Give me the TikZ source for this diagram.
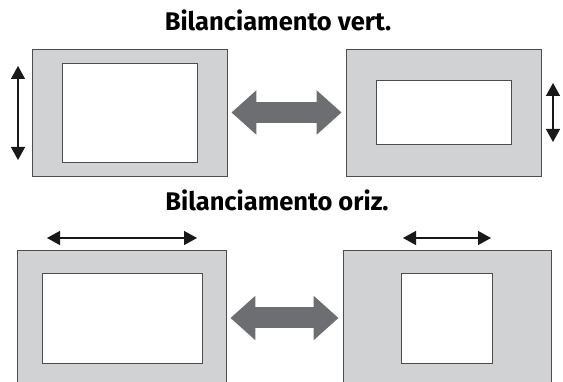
\documentclass[tikz,border=0pt]{standalone}
\usepackage{fontspec}
\setmainfont{Fira Sans}
\usetikzlibrary{arrows.meta}

\definecolor{framegray}{HTML}{D1D2D4}
\definecolor{edgegray}{HTML}{4D4D4F}
\definecolor{arrowgray}{HTML}{6D6E71}

\begin{document}
\begin{tikzpicture}[x=1pt, y=-1pt,
  screen/.style={rectangle, draw=edgegray, fill=framegray, line width=0.9pt, inner sep=0pt},
  picbox/.style={rectangle, draw=edgegray, fill=white, line width=0.9pt, inner sep=0pt},
  movearrow/.style={{Triangle[length=13pt, width=14pt]}-{Triangle[length=13pt, width=14pt]}, line width=1.4pt, black!90},
  bigarrow/.style={{Triangle[length=25pt, width=43pt]}-{Triangle[length=25pt, width=43pt]}, line width=21pt, arrowgray, shorten <=4pt, shorten >=4pt},
  title/.style={anchor=base, font=\fontsize{25.5}{30}\selectfont\bfseries}
]
  \useasboundingbox (0,0) rectangle (563,382);
  \clip (0,0) rectangle (563,382);

  % Vertical balance
  \node[title] (vtitle) at (278,31) {Bilanciamento vert.};
  \node[screen, minimum width=195pt, minimum height=127pt] (screenTL) at (129.5,112.5) {};
  \node[picbox, minimum width=135pt, minimum height=99pt] (picTL) at (129.5,112.5) {};
  \node[screen, minimum width=195pt, minimum height=127pt] (screenTR) at (443.5,112.5) {};
  \node[picbox, minimum width=135pt, minimum height=64pt] (picTR) at (443.5,112) {};

  \coordinate (vL1) at (18,66);
  \coordinate (vL2) at (18,160);
  \coordinate (vR1) at (553,83);
  \coordinate (vR2) at (553,142);
  \draw[movearrow] (vL1) -- (vL2);
  \draw[movearrow] (vR1) -- (vR2);
  \draw[bigarrow] (screenTL) -- (screenTR);

  % Horizontal balance
  \node[title] (htitle) at (277,211) {Bilanciamento oriz.};
  \node[screen, minimum width=209pt, minimum height=136pt] (screenBL) at (121.5,318) {};
  \node[picbox, minimum width=160pt, minimum height=90pt] (picBL) at (122,318) {};
  \node[screen, minimum width=208pt, minimum height=136pt] (screenBR) at (447,318) {};
  \node[picbox, minimum width=91pt, minimum height=90pt] (picBR) at (446.5,318) {};

  \coordinate (hL1) at (47,238);
  \coordinate (hL2) at (197,238);
  \coordinate (hR1) at (403,238);
  \coordinate (hR2) at (491,238);
  \draw[movearrow] (hL1) -- (hL2);
  \draw[movearrow] (hR1) -- (hR2);
  \draw[bigarrow] (screenBL) -- (screenBR);
\end{tikzpicture}
\end{document}
